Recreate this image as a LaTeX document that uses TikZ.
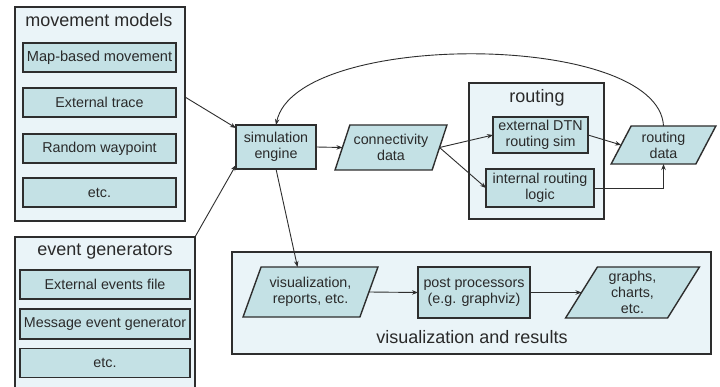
\documentclass[tikz,border=0pt]{standalone}
\usepackage{fontspec}
\setmainfont{Liberation Sans}
\usetikzlibrary{shapes.geometric,arrows.meta,calc}
\definecolor{contfill}{HTML}{EAF4F8}
\definecolor{boxfill}{HTML}{C4E1E5}
\definecolor{edge}{HTML}{2E2E2E}
\definecolor{txt}{HTML}{2A2A2A}
\begin{document}
\begin{tikzpicture}[x=1pt,y=-1pt,
  container/.style={draw=edge, line width=1.4pt, fill=contfill, inner sep=0pt, outer sep=0pt, anchor=north west},
  item/.style={draw=edge, line width=1.4pt, fill=boxfill, inner sep=0pt, outer sep=0pt, text=txt, font=\fontsize{14.3}{16}\selectfont, align=center},
  data/.style={item, trapezium, trapezium left angle=63, trapezium right angle=117, trapezium stretches=true},
  title/.style={text=txt, font=\fontsize{18}{20}\selectfont, inner sep=0pt},
  arr/.style={draw=edge, line width=0.9pt, -{Stealth[length=6pt,width=4.5pt]}}]
\useasboundingbox[fill=white] (0,0) rectangle (720,387);
% movement models
\node[container, minimum width=170pt, minimum height=214pt] (mm) at (15,7) {};
\node[title] (mmt) at (99,20) {movement models};
\node[item, minimum width=153pt, minimum height=29pt, font=\fontsize{14.6}{16}\selectfont] (map) at (99.5,57.5) {Map-based movement};
\node[item, minimum width=153pt, minimum height=29pt] (ext) at (99.5,102.5) {External trace};
\node[item, minimum width=153pt, minimum height=29pt] (rand) at (99.5,148.5) {Random waypoint};
\node[item, minimum width=153pt, minimum height=29pt] (etca) at (99.5,192.5) {etc.};
% event generators
\node[container, minimum width=180pt, minimum height=160pt] (eg) at (15,237) {};
\node[title] (egt) at (105,252) {event generators};
\node[item, minimum width=170pt, minimum height=29pt] (eev) at (105,284.5) {External events file};
\node[item, minimum width=170pt, minimum height=30pt] (meg) at (105,324) {Message event generator};
\node[item, minimum width=170pt, minimum height=29pt] (etcb) at (105,363) {etc.};
% simulation engine and connectivity
\node[item, minimum width=80pt, minimum height=44pt] (sim) at (276,147) {simulation\\engine};
\node[data, minimum width=112pt, minimum height=45pt] (conn) at (391,147.5) {connectivity\\data};
% routing
\node[container, minimum width=135pt, minimum height=136pt] (rt) at (469,83) {};
\node[title] (rtt) at (537,98) {routing};
\node[item, minimum width=95pt, minimum height=36pt] (dtn) at (540.5,135) {external DTN\\routing sim};
\node[item, minimum width=108pt, minimum height=38pt] (int) at (540,188) {internal routing\\logic};
\node[data, minimum width=105pt, minimum height=38pt] (rd) at (663.5,145) {routing\\data};
% visualization
\node[container, minimum width=479pt, minimum height=102pt] (vr) at (232,252) {};
\node[title] (vrt) at (472,337) {visualization and results};
\node[data, minimum width=135pt, minimum height=50pt] (vis) at (310.5,292) {visualization,\\reports, etc.};
\node[item, minimum width=112pt, minimum height=51pt] (post) at (474,292.5) {post processors\\(e.g. graphviz)};
\node[data, minimum width=135pt, minimum height=51pt] (gr) at (632.5,292.5) {graphs,\\charts,\\etc.};
% connectors
\draw[arr] ($(mm.north east)+(0,90)$) -- ([yshift=19pt]sim.west);
\draw[arr] (eg.north east) -- ([yshift=-18pt]sim.west);
\draw[arr] (sim.east) -- (conn.west);
\draw[arr] (conn.east) -- (dtn.west);
\draw[arr] (conn.east) -- (int.west);
\draw[arr] (dtn.east) -- (rd.west);
\draw[arr] (int.east) -| (rd);
\draw[arr] (rd.north) .. controls +(-5,-95) and +(20,-95) .. (sim.north);
\draw[arr] (sim.south) -- ([xshift=-13pt]vis.north);
\draw[arr] (vis.east) -- (post.west);
\draw[arr] (post.east) -- (gr.west);
\end{tikzpicture}
\end{document}
